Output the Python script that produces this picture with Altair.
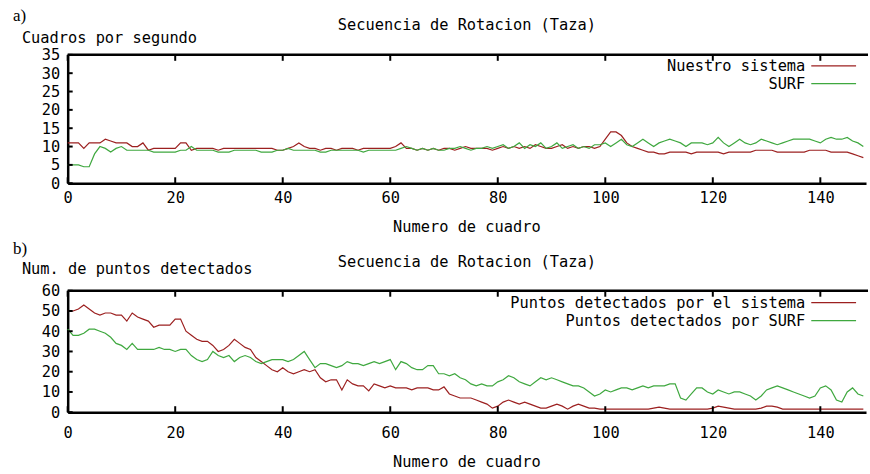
import altair as alt
import pandas as pd

# ---------------- data ----------------
frames = list(range(149))

fps_sistema = [
    11, 11, 11, 9.5, 11, 11, 11, 12, 11.5, 11,
    11, 11, 10, 10, 11, 9, 9.5, 9.5, 9.5, 9.5,
    9.5, 11, 11, 9, 9.5, 9.5, 9.5, 9.5, 9, 9.5,
    9.5, 9.5, 9.5, 9.5, 9.5, 9.5, 9.5, 9.5, 9.5, 9,
    9, 9.5, 10, 11, 10, 9.5, 9.5, 9, 9.5, 9.5,
    9, 9.5, 9.5, 9.5, 9, 9.5, 9.5, 9.5, 9.5, 9.5,
    9.5, 10, 11, 9.5, 9.5, 9, 9.5, 9, 9.5, 9,
    9.5, 9.5, 9, 9.5, 10, 9.5, 9.5, 9.5, 9.5, 9,
    9.5, 10, 9.5, 10, 9.5, 10, 9.5, 10.5, 10, 9.5,
    9.5, 10, 10.5, 9.5, 10, 9.5, 10, 10, 9.5, 10,
    12, 14, 14, 13, 11, 10, 9.5, 9, 8.5, 8.5,
    8, 8, 8.5, 8.5, 8.5, 8.5, 8, 8.5, 8.5, 8.5,
    8.5, 8.5, 8, 8.5, 8.5, 8.5, 8.5, 8.5, 9, 9,
    9, 9, 8.5, 8.5, 8.5, 8.5, 8.5, 8.5, 9, 9,
    9, 9, 8.5, 8.5, 8.5, 8.5, 8, 7.5, 7,
]

fps_surf = [
    5, 5, 5, 4.5, 4.5, 8, 10, 9.5, 8.5, 9.5,
    10, 9, 9, 9, 9, 9, 8.5, 8.5, 8.5, 8.5,
    8.5, 9, 9, 10, 9, 9, 9, 9, 8.5, 8.5,
    8.5, 9, 9, 9, 9, 9, 8.5, 8.5, 8.5, 9,
    9, 9.5, 9, 9, 9, 9, 9, 8.5, 8.5, 9,
    9, 9, 9, 9, 9, 8.5, 9, 9, 9, 9,
    9, 9, 9.5, 10, 9.5, 9, 9.5, 9, 9.5, 9,
    9, 9.5, 9.5, 10, 9.5, 9, 9.5, 9.5, 10, 9.5,
    10, 10.5, 9.5, 10, 11, 9.5, 10.5, 10, 11, 9.5,
    10, 11, 9.5, 10, 10.5, 9.5, 10, 9.5, 10.5, 10.5,
    11, 10, 11, 12, 10.5, 10, 11, 12, 11, 10,
    11, 11.5, 12, 11.5, 11, 10, 11, 11, 11, 10.5,
    11, 12.5, 11, 10, 11, 12, 11, 10.5, 11, 12,
    11.5, 11, 10.5, 11, 11.5, 12, 12, 12, 12, 11.5,
    11, 12, 12.5, 12, 12, 12.5, 11.5, 11, 10,
]

pts_sistema = [
    50, 50, 51, 53, 51, 49, 48, 49, 49, 48,
    48, 45, 49, 47, 46, 45, 42, 43, 43, 43,
    46, 46, 40, 38, 36, 35, 35, 33, 30, 31,
    33, 36, 34, 32, 31, 27, 25, 23, 21, 20,
    22, 20, 19, 20, 21, 20, 21, 17, 15, 16,
    16, 11, 16, 14, 13, 13, 10.5, 14, 13, 12,
    13, 12, 12, 12, 11, 12, 12, 12, 11, 11,
    12.5, 9, 8, 7, 7, 7, 6, 5, 4, 2,
    3, 5, 6, 5, 4, 5, 4, 3, 2, 2,
    3, 4, 3, 1.5, 3, 4, 3, 2, 2, 1.5,
    1.5, 1.5, 1.5, 1.5, 1.5, 1.5, 1.5, 1.5, 1.5, 2,
    2.5, 2, 1.5, 1.5, 1.5, 1.5, 1.5, 1.5, 1.5, 1.5,
    2, 3, 2.5, 2, 1.5, 1.5, 1.5, 1.5, 1.5, 2,
    3, 3, 2.5, 1.5, 1.5, 1.5, 1.5, 1.5, 1.5, 1.5,
    1.5, 1.5, 1.5, 1.5, 1.5, 1.5, 1.5, 1.5, 1.5,
]

pts_surf = [
    41, 38, 38, 39, 41, 41, 40, 39, 37, 34,
    33, 31, 34, 31, 31, 31, 31, 32, 31, 31,
    30, 31, 31, 28, 26, 25, 26, 30, 28, 27,
    28, 25, 27, 28, 27, 25, 24, 25, 26, 26,
    26, 25, 26, 28, 30, 26, 22, 24, 24, 23,
    22, 23, 25, 24, 24, 23, 24, 25, 24, 25,
    26, 21, 25, 24, 22, 21, 21, 23, 23, 19,
    19, 18, 19, 17, 16, 14, 13, 14, 13, 13,
    15, 16, 18, 17, 15, 14, 13, 15, 17, 16,
    17, 16, 15, 14, 13, 13, 12, 10, 8, 9,
    11, 10, 11, 12, 12, 11, 12, 13, 12, 13,
    13, 13, 14, 14, 7, 6, 9, 12, 12, 10,
    9, 11, 10, 9, 10, 10, 9, 8, 6, 8,
    11, 12, 13, 12, 11, 10, 9, 8, 7, 8,
    12, 13, 11, 6, 5, 10, 12, 9, 8,
]

for arr in (fps_sistema, fps_surf, pts_sistema, pts_surf):
    assert len(arr) == len(frames), len(arr)

x_ticks = [0, 20, 40, 60, 80, 100, 120, 140]
fps_ticks = [0, 5, 10, 15, 20, 25, 30, 35]
pts_ticks = [0, 10, 20, 30, 40, 50, 60]

series_a = ["Nuestro sistema", "SURF"]
series_b = ["Puntos detectados por el sistema", "Puntos detectados por SURF"]
title_text = "Secuencia de Rotacion (Taza)"
xtitle_text = "Numero de cuadro"
ylabel_a = "Cuadros por segundo"
ylabel_b = "Num. de puntos detectados"

# ---------------- style ----------------
RED = "#9c2020"
GREEN = "#3fa83f"
MONO = "DejaVu Sans Mono"
SERIF = "Liberation Serif"
FS = 15.4
W = 802


def one_row():
    return pd.DataFrame({"s": ["x"]})


def txt(s, x, y, font=MONO, size=FS, align="left"):
    return alt.Chart(pd.DataFrame({"s": [s]})).mark_text(
        font=font, fontSize=size, align=align, baseline="middle", color="black"
    ).encode(text="s:N", x=alt.value(x), y=alt.value(y))


def legend_line(color, y):
    return alt.Chart(one_row()).mark_rule(
        color=color, strokeWidth=1.3
    ).encode(x=alt.value(747), x2=alt.value(792), y=alt.value(y))


def panel(series_vals, names, yticks, ymax, H, tag, tag_y, ylabel, ylabel_y,
          title_y, xlab_pad, xtitle_y, leg_y):
    rows = []
    for name, vals in zip(names, series_vals):
        for f, v in zip(frames, vals):
            rows.append({"frame": f, "value": v, "series": name})
    df = pd.DataFrame(rows)

    xscale = alt.Scale(domain=[0, 148.5], nice=False, zero=False)
    yscale = alt.Scale(domain=[0, ymax], nice=False, zero=False)
    xaxis = alt.Axis(
        values=x_ticks, title=None, ticks=False, grid=False,
        labelPadding=xlab_pad, labelFlush=False, labelOverlap=False,
        labelFont=MONO, labelFontSize=FS, labelColor="black",
        domain=True, domainWidth=2.5, domainColor="black")
    yaxis = alt.Axis(
        values=yticks, title=None, ticks=False, grid=False,
        labelPadding=8, labelFlush=False, labelOverlap=False,
        labelFont=MONO, labelFontSize=FS, labelColor="black",
        domain=True, domainWidth=2.5, domainColor="black")

    lines = alt.Chart(df).mark_line(strokeWidth=1.2).encode(
        x=alt.X("frame:Q", scale=xscale, axis=xaxis),
        y=alt.Y("value:Q", scale=yscale, axis=yaxis),
        color=alt.Color("series:N", scale=alt.Scale(domain=names, range=[RED, GREEN]),
                        legend=None),
    )

    # top frame line
    top_frame = alt.Chart(one_row()).mark_rule(color="black", strokeWidth=2.5).encode(
        x=alt.value(0), x2=alt.value(W + 2), y=alt.value(0)
    )

    tdf = pd.DataFrame({"t": x_ticks})
    top_ticks = alt.Chart(tdf).mark_rule(color="black", strokeWidth=2).encode(
        x=alt.X("t:Q", scale=xscale, axis=xaxis),
        y=alt.value(0), y2=alt.value(6),
    )
    bottom_ticks = alt.Chart(tdf).mark_rule(color="black", strokeWidth=2).encode(
        x=alt.X("t:Q", scale=xscale, axis=xaxis),
        y=alt.value(H), y2=alt.value(H - 6),
    )
    ydf = pd.DataFrame({"t": yticks})
    left_ticks = alt.Chart(ydf).mark_rule(color="black", strokeWidth=2).encode(
        y=alt.Y("t:Q", scale=yscale, axis=yaxis),
        x=alt.value(0), x2=alt.value(5),
    )

    texts = [
        txt(tag, -55, tag_y, font=SERIF, size=17),
        txt(ylabel, -46, ylabel_y),
        txt(title_text, W / 2, title_y, align="center"),
        txt(xtitle_text, W / 2, xtitle_y, align="center"),
        txt(names[0], 741, leg_y[0], align="right"),
        txt(names[1], 741, leg_y[1], align="right"),
        legend_line(RED, leg_y[0]),
        legend_line(GREEN, leg_y[1]),
    ]

    return alt.layer(lines, top_frame, top_ticks, bottom_ticks, left_ticks, *texts).properties(
        width=W, height=H
    )


top = panel([fps_sistema, fps_surf], series_a, fps_ticks, 35, 129,
            "a)", -39, ylabel_a, -17, -30, 7, 173, (11, 29))
bottom = panel([pts_sistema, pts_surf], series_b, pts_ticks, 60, 122,
               "b)", -42, ylabel_b, -22, -29, 13.4, 172, (12, 30))

chart = alt.vconcat(top, bottom, spacing=108, bounds="flush").properties(
    padding={"left": 13, "top": 6, "right": 0, "bottom": 2},
    background="white",
).configure_view(stroke=None)

chart.save("out.html", embed_options={"renderer": "svg", "actions": False})
